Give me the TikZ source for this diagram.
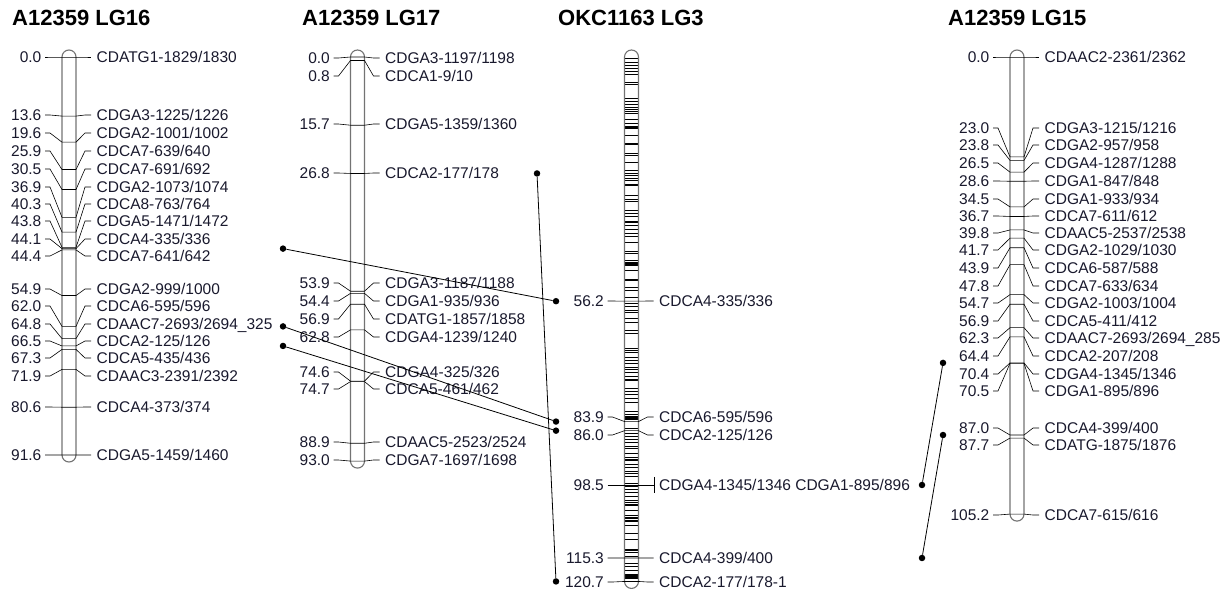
\documentclass[tikz,border=0pt]{standalone}
\usepackage{fontspec}
\setmainfont{Liberation Sans}
\definecolor{labtxt}{RGB}{25,25,45}
% map position (cM) -> vertical position on the page
\pgfmathdeclarefunction{mapy}{1}{\pgfmathparse{57+4.345*#1}}
\newcommand\labfont{\fontsize{15.5}{17}\selectfont}
\tikzset{
  chrom/.style={draw=black!55, line width=1.1pt, rounded corners=7pt},
  lead/.style={black, line width=0.6pt},
  band/.style={black, line width=0.7pt},
  thickband/.style={black, line width=2pt},
  cmlab/.style={anchor=base east, inner sep=0pt, text=labtxt, font=\labfont},
  mname/.style={anchor=base west, inner sep=0pt, text=labtxt, font=\labfont},
  title/.style={anchor=base west, inner sep=0pt, font=\fontsize{22}{24}\selectfont\bfseries},
  dot/.style={circle, fill=black, inner sep=0pt, minimum size=6.5pt},
  link/.style={black, line width=0.8pt}
}
% #1 centre x, #2 last cM, #3 name prefix, #4 markers cM/label y/name
\newcommand\linkmap[4]{%
  \draw[chrom] (#1-7,{mapy(0)-7}) rectangle (#1+7,{mapy(#2)+7});
  \foreach \cmv/\ly/\nm [count=\i] in {#4}{
    \draw[lead] (#1-24,\ly) -- (#1-19,\ly) -- (#1-7,{mapy(\cmv)}) -- (#1+7,{mapy(\cmv)}) -- (#1+16,\ly) -- (#1+22,\ly);
    \node[cmlab] (#3p\i) at (#1-27.5,{\ly+5.5}) {\cmv};
    \node[mname] (#3m\i) at (#1+27.5,{\ly+5.5}) {\nm};
  }
}
\begin{document}
\begin{tikzpicture}[x=1pt, y=-1pt, line join=round, line cap=butt]
\useasboundingbox (0,0) rectangle (1226,592);

% titles
\node[title] (t16) at (12,25) {A12359 LG16};
\node[title] (t17) at (302,25) {A12359 LG17};
\node[title] (t3) at (558,25) {OKC1163 LG3};
\node[title] (t15) at (948,25) {A12359 LG15};

% LG16
\linkmap{69}{91.6}{a}{0.0/57/{CDATG1-1829/1830}, 13.6/115/{CDGA3-1225/1226},
  19.6/133/{CDGA2-1001/1002}, 25.9/151/{CDCA7-639/640}, 30.5/169/{CDCA7-691/692},
  36.9/187/{CDGA2-1073/1074}, 40.3/204/{CDCA8-763/764}, 43.8/221/{CDGA5-1471/1472},
  44.1/239/{CDCA4-335/336}, 44.4/256/{CDCA7-641/642}, 54.9/289/{CDGA2-999/1000},
  62.0/306/{CDCA6-595/596}, 64.8/324/{CDAAC7-2693/2694\_325}, 66.5/341/{CDCA2-125/126},
  67.3/358/{CDCA5-435/436}, 71.9/376/{CDAAC3-2391/2392}, 80.6/407/{CDCA4-373/374},
  91.6/455/{CDGA5-1459/1460}}

% LG17
\linkmap{357.5}{93.0}{b}{0.0/58/{CDGA3-1197/1198}, 0.8/76/{CDCA1-9/10},
  15.7/124/{CDGA5-1359/1360}, 26.8/173/{CDCA2-177/178}, 53.9/283/{CDGA3-1187/1188},
  54.4/301/{CDGA1-935/936}, 56.9/319/{CDATG1-1857/1858}, 62.8/337/{CDGA4-1239/1240},
  74.6/372/{CDGA4-325/326}, 74.7/389/{CDCA5-461/462}, 88.9/442/{CDAAC5-2523/2524},
  93.0/460/{CDGA7-1697/1698}}

% LG3 (dense map)
\foreach \b in {0.3,1.2,2.0,2.6,3.2,4.0,5.8,6.4,9.5,10.1,10.9,11.5,12.0,12.4,12.9,14.3,
  15.2,15.9,18.0,22.2,22.7,24.2,26.2,26.8,27.3,27.9,28.5,31.8,32.8,33.3,35.4,36.0,36.6,
  38.7,39.7,40.6,41.2,42.7,44.7,45.3,46.7,49.2,52.9,53.6,55.3,56.8,57.5,58.2,58.8,60.1,
  61.1,62.8,63.6,67.0,67.5,68.0,69.2,69.8,70.5,71.5,72.0,72.6,73.6,76.2,76.9,77.6,78.6,
  79.5,81.6,82.2,85.5,86.7,87.3,87.9,88.7,89.5,90.1,91.2,92.1,93.7,94.4,95.4,95.9,96.4,
  98.1,99.5,100.3,101.2,102.0,102.6,104.3,105.5,107.7,109.6,111.0,114.1,114.9,116.5,
  117.3,118.2,119.0,120.6}
  \draw[band] (624.5,{mapy(\b)}) -- (638.5,{mapy(\b)});
\foreach \b in {16.3,20.0,29.5,37.9,47.3,47.9,51.3,74.3,82.9,83.3,92.8,98.7,103.1,106.2,
  106.9,113.5,119.5,120.0}
  \draw[thickband] (624.5,{mapy(\b)}) -- (638.5,{mapy(\b)});
\linkmap{631.5}{120.7}{g}{56.2/301/{CDCA4-335/336}, 83.9/417/{CDCA6-595/596},
  86.0/435/{CDCA2-125/126}, 115.3/558/{CDCA4-399/400}, 120.7/582/{CDCA2-177/178-1}}
\draw[lead] (607.5,{mapy(98.5)}) -- (654,{mapy(98.5)});
\draw[lead] (654,{mapy(98.5)-8}) -- (654,{mapy(98.5)+8});
\node[cmlab] (gp6) at (604,{mapy(98.5)+5.5}) {98.5};
\node[mname] (gm6) at (659,{mapy(98.5)+5.5}) {CDGA4-1345/1346 CDGA1-895/896};

% LG15
\linkmap{1017}{105.2}{c}{0.0/57/{CDAAC2-2361/2362}, 23.0/128/{CDGA3-1215/1216},
  23.8/145/{CDGA2-957/958}, 26.5/163/{CDGA4-1287/1288}, 28.6/181/{CDGA1-847/848},
  34.5/199/{CDGA1-933/934}, 36.7/216/{CDCA7-611/612}, 39.8/233/{CDAAC5-2537/2538},
  41.7/250/{CDGA2-1029/1030}, 43.9/268/{CDCA6-587/588}, 47.8/286/{CDCA7-633/634},
  54.7/303/{CDGA2-1003/1004}, 56.9/321/{CDCA5-411/412}, 62.3/338/{CDAAC7-2693/2694\_285},
  64.4/356/{CDCA2-207/208}, 70.4/374/{CDGA4-1345/1346}, 70.5/391/{CDGA1-895/896},
  87.0/428/{CDCA4-399/400}, 87.7/445/{CDATG-1875/1876}, 105.2/515/{CDCA7-615/616}}

% shared markers
\node[dot] (d16a) at (283,{mapy(44.1)}) {};
\node[dot] (d16b) at (283,{mapy(62.0)}) {};
\node[dot] (d16c) at (283,{mapy(66.5)}) {};
\node[dot] (d17a) at (537,{mapy(26.8)}) {};
\node[dot] (d3a) at (556,{mapy(56.2)}) {};
\node[dot] (d3b) at (556,{mapy(83.9)}) {};
\node[dot] (d3c) at (556,{mapy(86.0)}) {};
\node[dot] (d3d) at (556,{mapy(120.7)}) {};
\node[dot] (d3e) at (922,{mapy(98.5)}) {};
\node[dot] (d3f) at (922,{mapy(115.3)}) {};
\node[dot] (d15a) at (943,{mapy(70.4)}) {};
\node[dot] (d15b) at (943,{mapy(87.0)}) {};
\draw[link] (d16a) -- (d3a);
\draw[link] (d16b) -- (d3b);
\draw[link] (d16c) -- (d3c);
\draw[link] (d17a) -- (d3d);
\draw[link] (d3e) -- (d15a);
\draw[link] (d3f) -- (d15b);
\end{tikzpicture}
\end{document}
